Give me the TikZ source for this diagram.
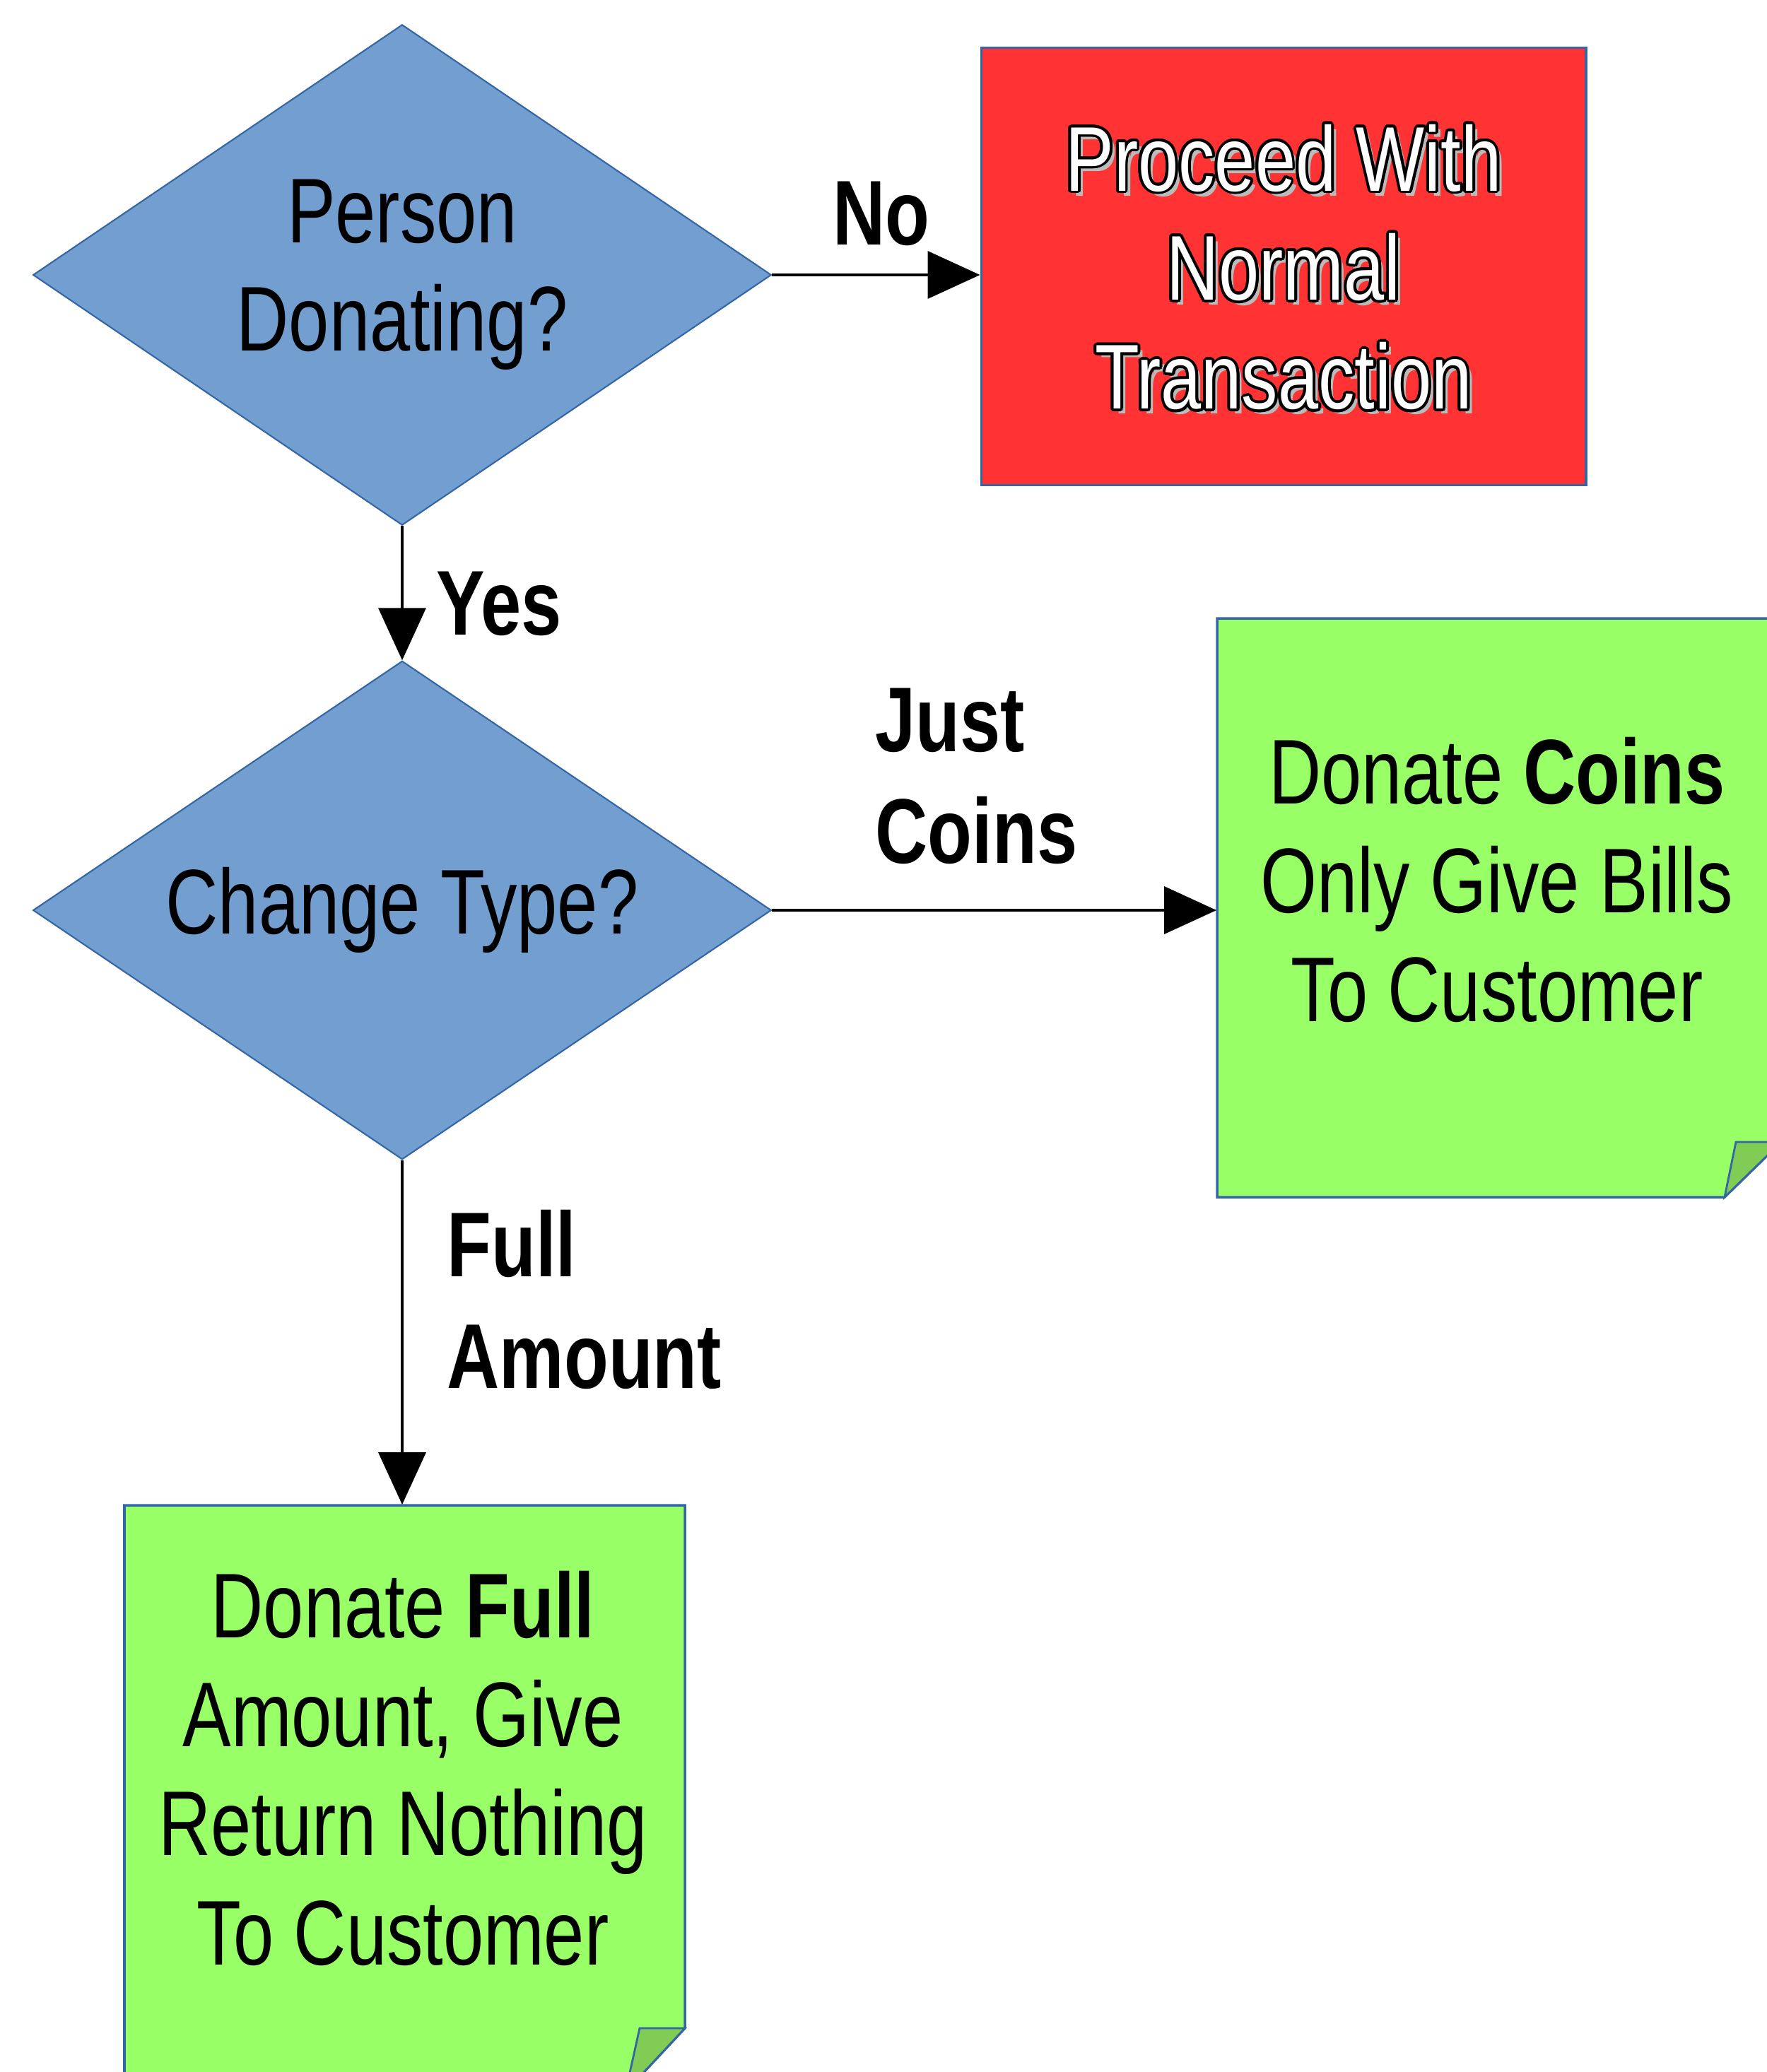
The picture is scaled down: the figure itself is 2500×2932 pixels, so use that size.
\documentclass[tikz,border=0pt]{standalone}
\usepackage{fontspec}
\setmainfont{Liberation Sans}[FakeStretch=0.79]
\usepackage[copies]{contour}
\contourlength{1.1pt}
\usetikzlibrary{shapes.geometric,arrows.meta}
\definecolor{dblue}{HTML}{729FCF}
\definecolor{lineblue}{HTML}{3465A4}
\definecolor{boxred}{HTML}{FF3333}
\definecolor{notegreen}{HTML}{99FF66}
\definecolor{foldgreen}{HTML}{80CC55}
\definecolor{shadowgray}{HTML}{BBBBBB}
\tikzset{
  decision/.style={diamond, draw=lineblue, fill=dblue, line width=0.6pt, inner sep=0pt, align=center,
    shape aspect=1.47, minimum width=10.44cm, minimum height=7.08cm},
  redbox/.style={rectangle, draw=lineblue, fill=boxred, line width=1pt, minimum width=8.55cm, minimum height=6.19cm},
  notebody/.style={fill=notegreen, draw=lineblue, line width=1pt, line join=miter},
  notefold/.style={fill=foldgreen, draw=lineblue, line width=0.8pt, line join=miter},
  anchorbox/.style={rectangle, draw=none, fill=none, inner sep=0pt},
  lbl/.style={font=\fontsize{37}{45}\selectfont\bfseries, align=left, inner sep=0pt},
  bodytext/.style={align=center, inner sep=0pt, font=\fontsize{37}{43.9}\selectfont},
  flow/.style={-{Triangle[length=21pt,width=19pt]}, line width=1.1pt, black},
}
\begin{document}
\begin{tikzpicture}[x=0.01cm, y=-0.01cm, font=\fontsize{37}{43.6}\selectfont]
\useasboundingbox (0,0) rectangle (2500,2932);
\clip (0,0) rectangle (2500,2932);

% decisions
\node[decision] (d1) at (569,389) {Person\\Donating?};
\node[decision, minimum height=7.05cm] (d2) at (569,1288) {Change Type?};

% red box
\node[redbox] (red) at (1816,377) {};
\node[bodytext, text=shadowgray, anchor=north] (redshadow) at (1823,182) {Proceed With\\Normal\\Transaction};
\node[bodytext, anchor=north] (redtext) at (1816,175) {\color{white}\contour{black}{Proceed With}\\\color{white}\contour{black}{Normal}\\\color{white}\contour{black}{Transaction}};

% note 1
\path[notebody] (1722,875) -- (2520,875) -- (2520,1616) -- (2440,1694) -- (1722,1694) -- cycle;
\path[notefold] (2440,1694) -- (2456,1616) -- (2520,1616) -- cycle;
\node[anchorbox, minimum width=7.98cm, minimum height=8.19cm] (n1) at (2121,1284.5) {};
\node[bodytext, anchor=north] (n1text) at (2118,1042) {Donate \textbf{Coins}\\Only Give Bills\\To Customer};

% note 2
\path[notebody] (176,2130) -- (969,2130) -- (969,2870) -- (885,2960) -- (176,2960) -- cycle;
\path[notefold] (885,2960) -- (905,2870) -- (969,2870) -- cycle;
\node[anchorbox, minimum width=7.93cm, minimum height=8.30cm] (n2) at (572.5,2545) {};
\node[bodytext, anchor=north] (n2text) at (570,2222) {Donate \textbf{Full}\\Amount, Give\\Return Nothing\\To Customer};

% connectors
\draw[flow] (d1.east) -- (d1.east -| red.west);
\draw[flow] (d1.south) -- (d2.north);
\draw[flow] (d2.east) -- (d2.east -| n1.west);
\draw[flow] (d2.south) -- (d2.south |- n2.north);

% labels
\node[lbl, anchor=base west] (lno) at (1178,346) {No};
\node[lbl, anchor=base west] (lyes) at (617,898) {Yes};
\node[lbl, anchor=north west] (ljust) at (1238,973) {Just\\Coins};
\node[lbl, anchor=north west] (lfull) at (632,1711) {Full\\Amount};
\end{tikzpicture}
\end{document}
